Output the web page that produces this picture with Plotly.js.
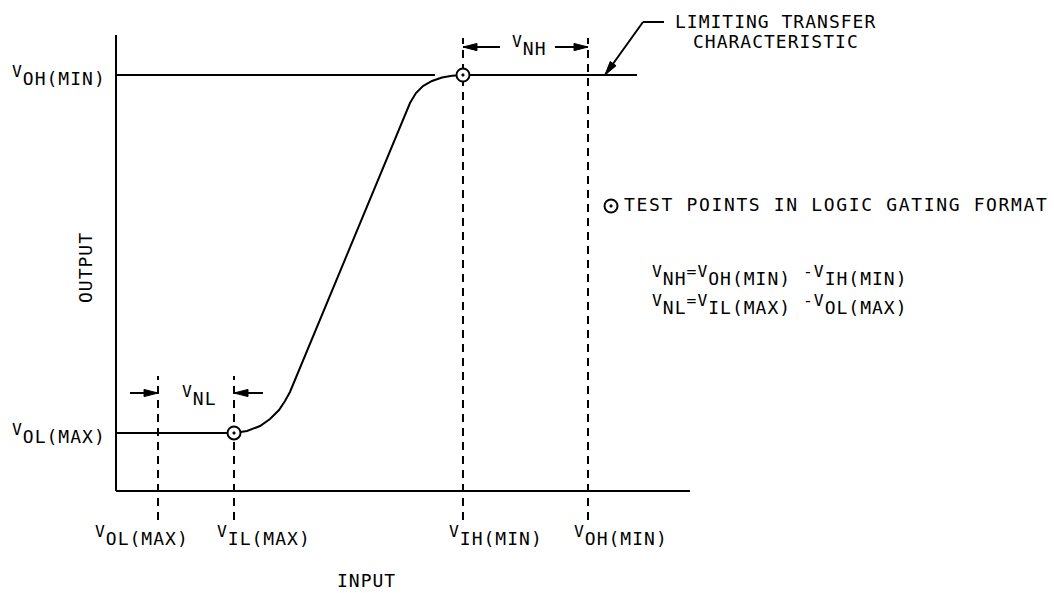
<!DOCTYPE html>
<html>
<head>
<meta charset="utf-8">
<script src="https://cdn.plot.ly/plotly-3.0.1.min.js"></script>
<style>html,body{margin:0;padding:0;background:#fff;}#chart{width:1054px;height:593px;}</style>
</head>
<body>
<div id="chart"></div>
<script>
// ---- Diagram data (arbitrary units: input 0-10, output 0-8) ----
const curveX = [0, 2.056, 2.282, 2.509, 2.683, 2.840, 2.944, 3.031, 5.122, 5.226, 5.348, 5.505, 5.679, 5.854, 6.045, 9.077];
const curveY = [1.018, 1.018, 1.053, 1.140, 1.263, 1.421, 1.579, 1.737, 6.807, 6.982, 7.105, 7.193, 7.254, 7.286, 7.298, 7.298];

const outputLevels = [1.018, 7.298];              // VOL(MAX), VOH(MIN) on output axis
const outputLabels = ['OL(MAX)', 'OH(MIN)'];
const inputLevels = [0.732, 2.056, 6.045, 8.223];  // VOL(MAX), VIL(MAX), VIH(MIN), VOH(MIN) on input axis
const inputLabels = ['OL(MAX)', 'IL(MAX)', 'IH(MIN)', 'OH(MIN)'];
const inputDashTop = [2.018, 2.018, 7.947, 7.947];
const dashBottom = -0.509;
const vohRefEnd = 5.557;                           // end of VOH(MIN) reference line
const testPointX = [2.056, 6.045];
const testPointY = [1.018, 7.298];
const legendPointX = [8.624], legendPointY = [5.0];
const xAxisMax = 10, yAxisMax = 8;

const nlArrowY = 1.719, nlTails = [0.244, 2.561];   // V_NL arrows
const nhArrowY = 7.789, nhTails = [6.690, 7.648];   // V_NH arrows
const leaderTip = [8.519, 7.298], leaderBend = [9.181, 8.228], leaderEnd = 9.547;

// ---- helpers ----
const SX = 57.4, SY = 57;   // px per unit (x, y)
const FONT = {family: 'DejaVu Sans Mono', size: 18, color: '#000'};
const LS = (s, sp) => `<span style="letter-spacing:${sp || 1}px">${s}</span>`;
const SUP = s => `<sup><span style="font-size:130%">${s}</span></sup>`;
const V = s => SUP('V') + s;
const P = (px, py) => ({xref: 'paper', yref: 'paper', x: px / 1054, y: 1 - py / 593});

const traces = [
  {x: curveX, y: curveY, mode: 'lines', line: {color: '#000', width: 2}, hoverinfo: 'skip'},
  {x: [0, vohRefEnd], y: [outputLevels[1], outputLevels[1]], mode: 'lines', line: {color: '#000', width: 2}, hoverinfo: 'skip'},
  {x: testPointX, y: testPointY, mode: 'markers',
   marker: {symbol: 'circle-dot', size: 13, color: '#fff', line: {color: '#000', width: 2}}, hoverinfo: 'skip'},
  {x: legendPointX, y: legendPointY, mode: 'markers',
   marker: {symbol: 'circle-dot', size: 13, color: '#fff', line: {color: '#000', width: 2}}, hoverinfo: 'skip'}
];

const shapes = [
  {type: 'line', xref: 'x', yref: 'y', x0: 0, x1: 0, y0: 0, y1: yAxisMax, line: {color: '#000', width: 2}},
  {type: 'line', xref: 'x', yref: 'y', x0: 0, x1: xAxisMax, y0: 0, y1: 0, line: {color: '#000', width: 2}},
  {type: 'line', xref: 'x', yref: 'y', x0: leaderBend[0], x1: leaderEnd, y0: leaderBend[1], y1: leaderBend[1], line: {color: '#000', width: 2}}
];
inputLevels.forEach((lv, i) => {
  shapes.push({type: 'line', xref: 'x', yref: 'y', layer: 'below', x0: lv, x1: lv, y0: dashBottom, y1: inputDashTop[i],
    line: {color: '#000', width: 2, dash: '8px,6px'}});
});

// arrow: shaft line + slender filled head computed from tip/tail
function arrow(tx, ty, ax, ay) {
  shapes.push({type: 'line', xref: 'x', yref: 'y', x0: ax, y0: ay, x1: tx, y1: ty, line: {color: '#000', width: 2}});
  const dxp = (tx - ax) * SX, dyp = (ty - ay) * SY;
  const len = Math.hypot(dxp, dyp), ux = dxp / len, uy = dyp / len;
  const L = 14, W = 3.6;
  const bx = tx - ux * L / SX, by = ty - uy * L / SY;
  const px = -uy * W / SX, py = ux * W / SY;
  shapes.push({type: 'path', xref: 'x', yref: 'y',
    path: `M${tx},${ty}L${bx + px},${by + py}L${bx - px},${by - py}Z`,
    fillcolor: '#000', line: {color: '#000', width: 1}});
}
arrow(inputLevels[0], nlArrowY, nlTails[0], nlArrowY);
arrow(inputLevels[1], nlArrowY, nlTails[1], nlArrowY);
arrow(inputLevels[2], nhArrowY, nhTails[0], nhArrowY);
arrow(inputLevels[3], nhArrowY, nhTails[1], nhArrowY);
arrow(leaderTip[0], leaderTip[1], leaderBend[0], leaderBend[1]);

const annotations = [];
const txt = (pos, text, xanchor, extra, sp) => Object.assign({}, pos, {text: LS(text, sp), showarrow: false,
  xanchor: xanchor, yanchor: 'middle', font: FONT}, extra || {});

// output-axis labels
const yLabelPos = [[108, 433], [108, 75]];
outputLabels.forEach((l, i) => annotations.push(txt(P(yLabelPos[i][0], yLabelPos[i][1]), V(l), 'right')));
// input-axis labels
const xLabelLeft = [93, 215, 447, 572];
inputLabels.forEach((l, i) => annotations.push(txt(P(xLabelLeft[i], 535), V(l), 'left')));

annotations.push(txt(P(180, 395), V('NL'), 'left'));
annotations.push(txt(P(510, 46), V('NH'), 'left'));
annotations.push(txt(P(366, 580), 'INPUT', 'center'));
annotations.push(txt(P(85, 268), 'OUTPUT', 'center', {textangle: -90}));
annotations.push(txt(P(775, 21), 'LIMITING TRANSFER', 'center'));
annotations.push(txt(P(776, 42), 'CHARACTERISTIC', 'center'));
annotations.push(txt(P(622, 205), 'TEST POINTS IN LOGIC GATING FORMAT', 'left', null, 1.65));
annotations.push(txt(P(650, 275), V('NH') + SUP('=V') + 'OH(MIN) ' + SUP('-V') + 'IH(MIN)', 'left'));
annotations.push(txt(P(650, 304), V('NL') + SUP('=V') + 'IL(MAX) ' + SUP('-V') + 'OL(MAX)', 'left'));

const layout = {
  width: 1054, height: 593,
  margin: {l: 0, r: 0, t: 0, b: 0},
  paper_bgcolor: '#fff', plot_bgcolor: '#fff',
  showlegend: false,
  xaxis: {range: [-116 / SX, 938 / SX], visible: false, fixedrange: true},
  yaxis: {range: [-102 / SY, 491 / SY], visible: false, fixedrange: true},
  shapes: shapes,
  annotations: annotations,
  font: FONT
};

Plotly.newPlot('chart', traces, layout, {displayModeBar: false, staticPlot: true});
</script>
</body>
</html>
